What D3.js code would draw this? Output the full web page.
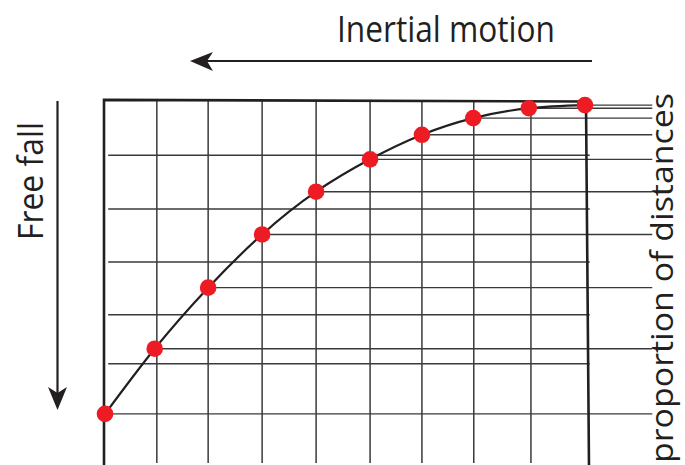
<!DOCTYPE html>
<html>
<head>
<meta charset="utf-8">
<script src="https://cdn.jsdelivr.net/npm/d3@7"></script>
<style>
  body { margin: 0; background: #fff; }
  text { font-family: "Open Sans", "Noto Sans", sans-serif; fill: #231f20; }
</style>
</head>
<body>
<div id="chart"></div>
<script>
// data: time steps, horizontal distance covered (grid units), distance fallen (grid units)
const steps = [0, 1, 2, 3, 4, 5, 6, 7, 8, 9];
const horiz = [0.02, 1.07, 2.11, 3.07, 4.04, 5.05, 6.06, 7.07, 8.07, 9];
const fall = [0.04, 0.1, 0.29, 0.61, 1.08, 1.7, 2.52, 3.54, 4.71, 5.96];

// grid lines (grid units)
const gridX = [1.03, 2.1, 3.07, 4.04, 5.05, 6.06, 7.07, 8.03];
const gridY = [1.0, 2.03, 3.05, 4.06, 5.0];

// labels
const titleTop = "Inertial motion";
const titleLeft = "Free fall";
const titleRight = "proportion of distances";

// canvas size
const width = 685;
const height = 465;

const svg = d3
  .select("#chart")
  .append("svg")
  .attr("width", width)
  .attr("height", height);

// scales: motion goes right to left, fall goes down
const xScale = d3.scaleLinear().domain([0, 9]).range([586, 105]);
const yScale = d3.scaleLinear().domain([0, 6]).range([103, 416]);

const ink = "#231f20";
const gridColor = "#3a3a3a";

const points = steps.map((t, i) => ({ t: t, x: horiz[i], y: fall[i] }));

// vertical grid lines
svg
  .append("g")
  .selectAll("line")
  .data(gridX)
  .enter()
  .append("line")
  .attr("x1", (d) => xScale(d))
  .attr("x2", (d) => xScale(d))
  .attr("y1", yScale(-0.05))
  .attr("y2", yScale(6.9))
  .attr("stroke", gridColor)
  .attr("stroke-width", 1.5);

// horizontal grid lines inside the frame
svg
  .append("g")
  .selectAll("line")
  .data(gridY)
  .enter()
  .append("line")
  .attr("x1", xScale(8.94))
  .attr("x2", xScale(-0.07))
  .attr("y1", (d) => yScale(d))
  .attr("y2", (d) => yScale(d))
  .attr("stroke", gridColor)
  .attr("stroke-width", 1.5);

// lines from each point out to the right margin
svg
  .append("g")
  .selectAll("line")
  .data(points)
  .enter()
  .append("line")
  .attr("x1", (d) => xScale(d.x))
  .attr("x2", xScale(-1.24))
  .attr("y1", (d) => yScale(d.y))
  .attr("y2", (d) => yScale(d.y))
  .attr("stroke", gridColor)
  .attr("stroke-width", 1.4);

// frame: top, left and right edges
const frame = svg.append("g").attr("stroke", ink).attr("stroke-width", 2.6).attr("fill", "none");
frame
  .append("path")
  .attr(
    "d",
    d3.line()([
      [xScale(9) - 1, yScale(6.98)],
      [xScale(9) - 1, yScale(-0.06)],
      [xScale(0), yScale(-0.03)],
      [xScale(0) + 3, yScale(6.98)],
    ])
  );

// trajectory curve
svg
  .append("path")
  .datum(points)
  .attr("fill", "none")
  .attr("stroke", ink)
  .attr("stroke-width", 2.2)
  .attr(
    "d",
    d3
      .line()
      .x((d) => xScale(d.x))
      .y((d) => yScale(d.y))
      .curve(d3.curveNatural)
  );

// red points
svg
  .append("g")
  .selectAll("circle")
  .data(points)
  .enter()
  .append("circle")
  .attr("cx", (d) => xScale(d.x))
  .attr("cy", (d) => yScale(d.y))
  .attr("r", 8.3)
  .attr("fill", "#ed1c24");

// arrows
const arrow = svg.append("g").attr("stroke", ink).attr("fill", ink);
// inertial motion (leftward)
arrow.append("line").attr("x1", 592).attr("x2", 200).attr("y1", 61).attr("y2", 61).attr("stroke-width", 2.2);
arrow.append("path").attr("stroke", "none").attr("d", "M190,61 L213,52 L207,61 L213,71 Z");
// free fall (downward)
arrow.append("line").attr("x1", 57.5).attr("x2", 57.5).attr("y1", 101).attr("y2", 398).attr("stroke-width", 2.2);
arrow.append("path").attr("stroke", "none").attr("d", "M57.5,410 L48,387 L57.5,393 L67,387 Z");

// labels
svg
  .append("text")
  .attr("x", 337)
  .attr("y", 41.5)
  .attr("font-size", 36)
  .attr("textLength", 218)
  .attr("lengthAdjust", "spacingAndGlyphs")
  .text(titleTop);

svg
  .append("text")
  .attr("transform", "translate(43,240) rotate(-90)")
  .attr("font-size", 35)
  .attr("textLength", 118)
  .attr("lengthAdjust", "spacingAndGlyphs")
  .text(titleLeft);

svg
  .append("text")
  .attr("transform", "translate(673,463) rotate(-90)")
  .attr("font-size", 31)
  .attr("textLength", 370)
  .attr("lengthAdjust", "spacingAndGlyphs")
  .text(titleRight);
</script>
</body>
</html>
